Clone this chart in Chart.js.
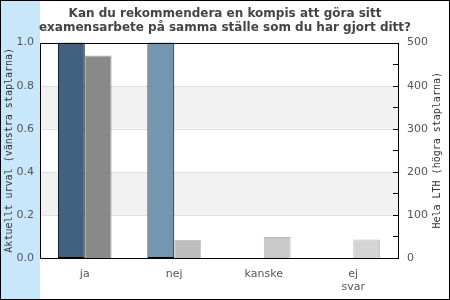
<!DOCTYPE html>
<html>
<head>
<meta charset="utf-8">
<script src="https://cdn.jsdelivr.net/npm/chart.js@4/dist/chart.umd.min.js"></script>
<style>
  body { margin: 0; background: #fff; }
  canvas { display: block; }
</style>
</head>
<body>
<canvas id="chart" width="450" height="300"></canvas>
<script>
// Data
const categories = [["ja"], ["nej"], ["kanske"], ["ej", "svar"]];
const leftValues = [1.0, 1.0, 0, 0];        // Aktuellt urval (share)
const rightValues = [470, 42, 49, 43];      // Hela LTH (count)
const leftTicks = [0, 0.2, 0.4, 0.6, 0.8, 1.0];
const rightTicks = [0, 100, 200, 300, 400, 500];
const rightTitle = "Hela LTH (högra staplarna)";

// Styles
const leftColors = ["#41617f", "#7596b1", "#9fbbd0", "#c3d6e4"];
const rightColors = ["#898989", "#bebebe", "#c9c9c9", "#d4d4d4"];
const rightBorders = ["#a9a9a9", "#c6c6c6", "#b5b5b5", "#c0c0c0"];

// Page background, blue strip, frame and grey bands
const backdrop = {
  id: "backdrop",
  beforeDraw(chart) {
    const ctx = chart.ctx;
    const area = chart.chartArea;
    const y = chart.scales.y;
    ctx.save();
    ctx.fillStyle = "#fff";
    ctx.fillRect(0, 0, chart.width, chart.height);
    ctx.fillStyle = "#c8e7fb";
    ctx.fillRect(0, 0, area.left, chart.height);
    // alternating bands
    for (let i = 0; i < leftTicks.length - 1; i++) {
      if (i % 2 === 1) {
        const top = y.getPixelForValue(leftTicks[i + 1]);
        const bot = y.getPixelForValue(leftTicks[i]);
        ctx.fillStyle = "#f2f2f2";
        ctx.fillRect(area.left, top, area.right - area.left, bot - top);
      }
    }
    ctx.strokeStyle = "#e0e0e0";
    ctx.lineWidth = 1;
    leftTicks.slice(1, -1).forEach(v => {
      const py = Math.round(y.getPixelForValue(v)) + 0.5;
      ctx.beginPath();
      ctx.moveTo(area.left, py);
      ctx.lineTo(area.right, py);
      ctx.stroke();
    });
    ctx.restore();
  },
  afterDatasetsDraw(chart) {
    const ctx = chart.ctx;
    const area = chart.chartArea;
    const y1 = chart.scales.y1;
    ctx.save();
    ctx.strokeStyle = "#000";
    ctx.lineWidth = 1;
    ctx.strokeRect(Math.round(area.left) + 0.5, Math.round(area.top) + 0.5,
      Math.round(area.right - area.left), Math.round(area.bottom - area.top));
    // minor ticks on right axis
    for (let v = 50; v < 500; v += 50) {
      const py = Math.round(y1.getPixelForValue(v)) + 0.5;
      ctx.beginPath();
      ctx.moveTo(area.right - 5, py);
      ctx.lineTo(area.right, py);
      ctx.stroke();
    }
    // outer frame
    ctx.strokeRect(0.5, 0.5, chart.width - 1, chart.height - 1);
    // right axis title, reading bottom to top like the left one
    ctx.translate(437, (area.top + area.bottom) / 2);
    ctx.rotate(-Math.PI / 2);
    ctx.fillStyle = "#333";
    ctx.font = "10px 'DejaVu Sans Mono'";
    ctx.textAlign = "center";
    ctx.textBaseline = "middle";
    ctx.fillText(rightTitle, 0, 0);
    ctx.restore();
  }
};

new Chart(document.getElementById("chart"), {
  type: "bar",
  data: {
    labels: categories,
    datasets: [
      {
        label: "Aktuellt urval",
        data: leftValues,
        yAxisID: "y",
        backgroundColor: leftColors,
        borderColor: "#000",
        borderWidth: c => (c.raw ? 1 : 0),
        borderSkipped: false
      },
      {
        label: "Hela LTH",
        data: rightValues,
        yAxisID: "y1",
        backgroundColor: rightColors,
        borderColor: rightBorders,
        borderWidth: 1,
        borderSkipped: "bottom"
      }
    ]
  },
  options: {
    responsive: false,
    animation: false,
    devicePixelRatio: 1,
    layout: { padding: 0 },
    categoryPercentage: 0.6,
    barPercentage: 1,
    plugins: {
      legend: { display: false },
      tooltip: { enabled: false },
      title: {
        display: true,
        text: ["Kan du rekommendera en kompis att göra sitt",
               "examensarbete på samma ställe som du har gjort ditt?"],
        color: "#444",
        font: { family: "DejaVu Sans", size: 12, weight: "bold", lineHeight: 1.15 },
        padding: { top: 7, bottom: 8 }
      }
    },
    scales: {
      x: {
        grid: { display: false },
        border: { display: false },
        ticks: {
          color: "#555",
          font: { family: "DejaVu Sans", size: 11, lineHeight: 1.15 },
          padding: 2,
          maxRotation: 0
        },
        afterFit: s => { s.height = 42; }
      },
      y: {
        position: "left",
        min: 0,
        max: 1,
        afterBuildTicks: s => { s.ticks = leftTicks.map(v => ({ value: v })); },
        grid: { display: false, drawTicks: false },
        border: { display: false },
        ticks: {
          color: "#555",
          font: { family: "DejaVu Sans", size: 11 },
          padding: 6,
          callback: v => v.toFixed(1)
        },
        title: {
          display: true,
          text: "Aktuellt urval (vänstra staplarna)",
          color: "#333",
          font: { family: "DejaVu Sans Mono", size: 10, lineHeight: 1.2 },
          padding: 3
        },
        afterFit: s => { s.width = 40; }
      },
      y1: {
        position: "right",
        min: 0,
        max: 500,
        afterBuildTicks: s => { s.ticks = rightTicks.map(v => ({ value: v })); },
        grid: { display: false, drawTicks: false },
        border: { display: false },
        ticks: {
          color: "#555",
          font: { family: "DejaVu Sans", size: 11 },
          padding: 9
        },
        afterFit: s => { s.width = 52; }
      }
    }
  },
  plugins: [backdrop]
});
</script>
</body>
</html>
